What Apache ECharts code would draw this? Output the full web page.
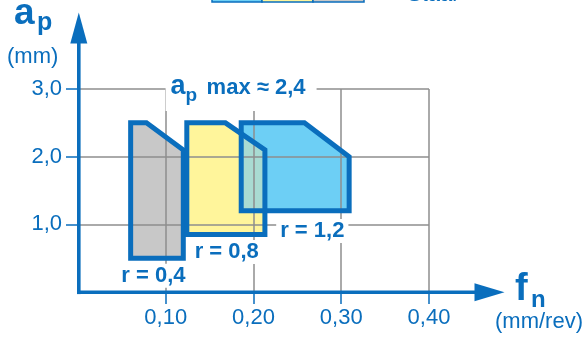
<!DOCTYPE html>
<html>
<head>
<meta charset="utf-8">
<script src="https://cdn.jsdelivr.net/npm/echarts@6/dist/echarts.min.js"></script>
<style>
  html, body { margin: 0; padding: 0; background: #ffffff; }
  #chart { width: 584px; height: 344px; }
</style>
</head>
<body>
<div id="chart"></div>
<script>
// Feed rate (fn) and depth of cut (ap) working ranges per nose radius.
const fnTicks = [0.1, 0.2, 0.3, 0.4];
const fnTickLabels = ['0,10', '0,20', '0,30', '0,40'];
const apTicks = [1, 2, 3];
const apTickLabels = ['1,0', '2,0', '3,0'];

// r = 0,4
const r04Fn = [0.06, 0.06, 0.078, 0.12, 0.12];
const r04Ap = [0.5, 2.5, 2.5, 2.1, 0.5];
// r = 0,8
const r08Fn = [0.124, 0.124, 0.168, 0.213, 0.213];
const r08Ap = [0.85, 2.5, 2.5, 2.1, 0.85];
// r = 1,2
const r12Fn = [0.186, 0.186, 0.258, 0.309, 0.309];
const r12Ap = [1.2, 2.5, 2.5, 2.0, 1.2];

const radiusNames = ['r = 0,4', 'r = 0,8', 'r = 1,2'];
const radiusLabelFn = [0.086, 0.1695, 0.267];
const radiusLabelAp = [0.24, 0.59, 0.90];

const apMaxText = 'max \u2248 2,4';
const apMaxLabelFn = [0.183];
const apMaxLabelAp = [3.0];

const FONT = '"Liberation Sans", Arial, Helvetica, sans-serif';
const BLUE = '#0a6ebd';
const GRID_GRAY = '#8e8e8e';
const FILLS = ['#c8c8c8', '#fff59b', '#6dcff5', '#a9dbd2'];

function zip(xs, ys) { return xs.map((x, i) => [x, ys[i]]); }

// Intersection of two convex polygons (Sutherland–Hodgman)
function clipConvex(subject, clip) {
  let area = 0;
  for (let i = 0; i < clip.length; i++) {
    const a = clip[i], b = clip[(i + 1) % clip.length];
    area += a[0] * b[1] - b[0] * a[1];
  }
  const sign = area > 0 ? 1 : -1;
  const inside = (p, a, b) => sign * ((b[0] - a[0]) * (p[1] - a[1]) - (b[1] - a[1]) * (p[0] - a[0])) >= 0;
  const cross = (p, q, a, b) => {
    const x1 = p[0], y1 = p[1], x2 = q[0], y2 = q[1];
    const x3 = a[0], y3 = a[1], x4 = b[0], y4 = b[1];
    const d = (x1 - x2) * (y3 - y4) - (y1 - y2) * (x3 - x4);
    const t = ((x1 - x3) * (y3 - y4) - (y1 - y3) * (x3 - x4)) / d;
    return [x1 + t * (x2 - x1), y1 + t * (y2 - y1)];
  };
  let out = subject.slice();
  for (let i = 0; i < clip.length && out.length; i++) {
    const a = clip[i], b = clip[(i + 1) % clip.length];
    const input = out; out = [];
    for (let j = 0; j < input.length; j++) {
      const p = input[j], q = input[(j + 1) % input.length];
      const pin = inside(p, a, b), qin = inside(q, a, b);
      if (pin) {
        out.push(p);
        if (!qin) out.push(cross(p, q, a, b));
      } else if (qin) {
        out.push(cross(p, q, a, b));
      }
    }
  }
  return out;
}

const regions = [zip(r04Fn, r04Ap), zip(r08Fn, r08Ap), zip(r12Fn, r12Ap)];
const overlap = clipConvex(regions[1], regions[2]);
const fillShapes = regions.concat([overlap]);

const chart = echarts.init(document.getElementById('chart'), null, { renderer: 'canvas' });

const option = {
  animation: false,
  backgroundColor: '#ffffff',
  grid: { left: 78, top: 89, width: 351, height: 203 },
  xAxis: {
    type: 'value', min: 0, max: 0.4, interval: 0.1, z: 5,
    axisLine: { show: false },
    axisTick: {
      show: true, customValues: fnTicks, length: 12, inside: false,
      lineStyle: { color: BLUE, width: 1.5 }
    },
    axisLabel: {
      customValues: fnTicks, margin: 15, color: BLUE, fontSize: 22, fontFamily: FONT,
      formatter: v => fnTickLabels[fnTicks.findIndex(t => Math.abs(t - v) < 1e-9)] || ''
    },
    splitLine: { show: true, lineStyle: { color: GRID_GRAY, width: 1.5 } }
  },
  yAxis: {
    type: 'value', min: 0, max: 3, interval: 1, z: 5,
    axisLine: { show: false },
    axisTick: {
      show: true, customValues: apTicks, length: 12, inside: false,
      lineStyle: { color: BLUE, width: 1.5 }
    },
    axisLabel: {
      customValues: apTicks, margin: 16, color: BLUE, fontSize: 22, fontFamily: FONT,
      formatter: v => apTickLabels[apTicks.findIndex(t => Math.abs(t - v) < 1e-9)] || ''
    },
    splitLine: { show: true, lineStyle: { color: GRID_GRAY, width: 1.5 } }
  },
  series: [
    {
      // region fills, below the grid lines
      type: 'custom', name: 'fills', z: 1, silent: true,
      data: fillShapes.map((_, i) => [i]),
      renderItem: (params, api) => {
        const pts = fillShapes[params.dataIndex].map(p => api.coord(p));
        return { type: 'polygon', shape: { points: pts }, style: { fill: FILLS[params.dataIndex], stroke: null } };
      }
    },
    {
      // region outlines
      type: 'custom', name: 'outlines', z: 10, silent: true,
      data: regions.map((_, i) => [i]),
      renderItem: (params, api) => {
        const pts = regions[params.dataIndex].map(p => api.coord(p));
        return {
          type: 'polygon', shape: { points: pts },
          style: { fill: null, stroke: BLUE, lineWidth: 5, lineJoin: 'miter' }
        };
      }
    },
    {
      // nose radius labels
      type: 'custom', name: 'radius', z: 12, silent: true,
      data: zip(radiusLabelFn, radiusLabelAp),
      renderItem: (params, api) => {
        const c = api.coord([api.value(0), api.value(1)]);
        return {
          type: 'text', x: c[0], y: c[1],
          style: {
            text: radiusNames[params.dataIndex], fill: BLUE,
            font: 'bold 22px ' + FONT, align: 'center', verticalAlign: 'middle',
            textAlign: 'center', textVerticalAlign: 'middle',
            backgroundColor: '#ffffff', padding: [1, 4, 1, 4]
          }
        };
      }
    },
    {
      // ap max annotation on the top grid line
      type: 'custom', name: 'apmax', z: 12, silent: true,
      data: zip(apMaxLabelFn, apMaxLabelAp),
      renderItem: (params, api) => {
        const c = api.coord([api.value(0), api.value(1)]);
        return {
          type: 'group', x: c[0], y: c[1],
          children: [
            { type: 'rect', shape: { x: -73, y: -10, width: 151, height: 32 }, style: { fill: '#ffffff' } },
            { type: 'text', x: -68, y: -2.5, style: { text: 'a', fill: BLUE, font: 'bold 27px ' + FONT, align: 'left', verticalAlign: 'middle' } },
            { type: 'text', x: -53, y: 6.5, style: { text: 'p', fill: BLUE, font: 'bold 19px ' + FONT, align: 'left', verticalAlign: 'middle' } },
            { type: 'text', x: -32, y: -0.7, style: { text: apMaxText, fill: BLUE, font: 'bold 22px ' + FONT, align: 'left', verticalAlign: 'middle' } }
          ]
        };
      }
    }
  ]
};

chart.setOption(option);

// Axis lines with arrow heads, axis titles and the legend strip at the top edge
const o = chart.convertToPixel({ gridIndex: 0 }, [0, 0]);
const ox = o[0] + 0.8, oy = o[1] + 0.3;
const xEnd = chart.convertToPixel({ gridIndex: 0 }, [0.4, 0])[0];

chart.setOption({
  graphic: {
    elements: [
      { type: 'line', z: 20, shape: { x1: ox, y1: oy + 1.8, x2: ox, y2: 42 }, style: { stroke: BLUE, lineWidth: 3.6 } },
      { type: 'polygon', z: 20, shape: { points: [[ox - 8.5, 43.5], [ox + 8.5, 43.5], [ox, 12.5]] }, style: { fill: BLUE } },
      { type: 'line', z: 20, shape: { x1: ox - 1.8, y1: oy, x2: xEnd + 47, y2: oy }, style: { stroke: BLUE, lineWidth: 3.6 } },
      { type: 'polygon', z: 20, shape: { points: [[xEnd + 45.5, oy - 9], [xEnd + 45.5, oy + 9], [xEnd + 75.5, oy]] }, style: { fill: BLUE } },

      { type: 'text', z: 20, x: 14, y: 14, style: { text: 'a', fill: BLUE, font: 'bold 37px ' + FONT, align: 'left', verticalAlign: 'middle' } },
      { type: 'text', z: 20, x: 37, y: 23, style: { text: 'p', fill: BLUE, font: 'bold 25px ' + FONT, align: 'left', verticalAlign: 'middle' } },
      { type: 'text', z: 20, x: 7, y: 57, style: { text: '(mm)', fill: BLUE, font: '22px ' + FONT, align: 'left', verticalAlign: 'middle' } },

      { type: 'text', z: 20, x: 515, y: 290, style: { text: 'f', fill: BLUE, font: 'bold 38px ' + FONT, align: 'left', verticalAlign: 'middle' } },
      { type: 'text', z: 20, x: 531, y: 300, style: { text: 'n', fill: BLUE, font: 'bold 24px ' + FONT, align: 'left', verticalAlign: 'middle' } },
      { type: 'text', z: 20, x: 583, y: 322, style: { text: '(mm/rev)', fill: BLUE, font: '22px ' + FONT, align: 'right', verticalAlign: 'middle' } },

      { type: 'rect', z: 20, shape: { x: 212, y: -20, width: 50, height: 22 }, style: { fill: FILLS[2], stroke: BLUE, lineWidth: 1.5 } },
      { type: 'rect', z: 20, shape: { x: 262, y: -20, width: 51, height: 22 }, style: { fill: FILLS[1], stroke: BLUE, lineWidth: 1.5 } },
      { type: 'rect', z: 20, shape: { x: 313, y: -20, width: 51, height: 22 }, style: { fill: FILLS[0], stroke: BLUE, lineWidth: 1.5 } },
      { type: 'text', z: 20, x: 407, y: -5, style: { text: 'Staal', fill: BLUE, font: '22px ' + FONT, align: 'left', verticalAlign: 'middle' } }
    ]
  }
});
</script>
</body>
</html>
